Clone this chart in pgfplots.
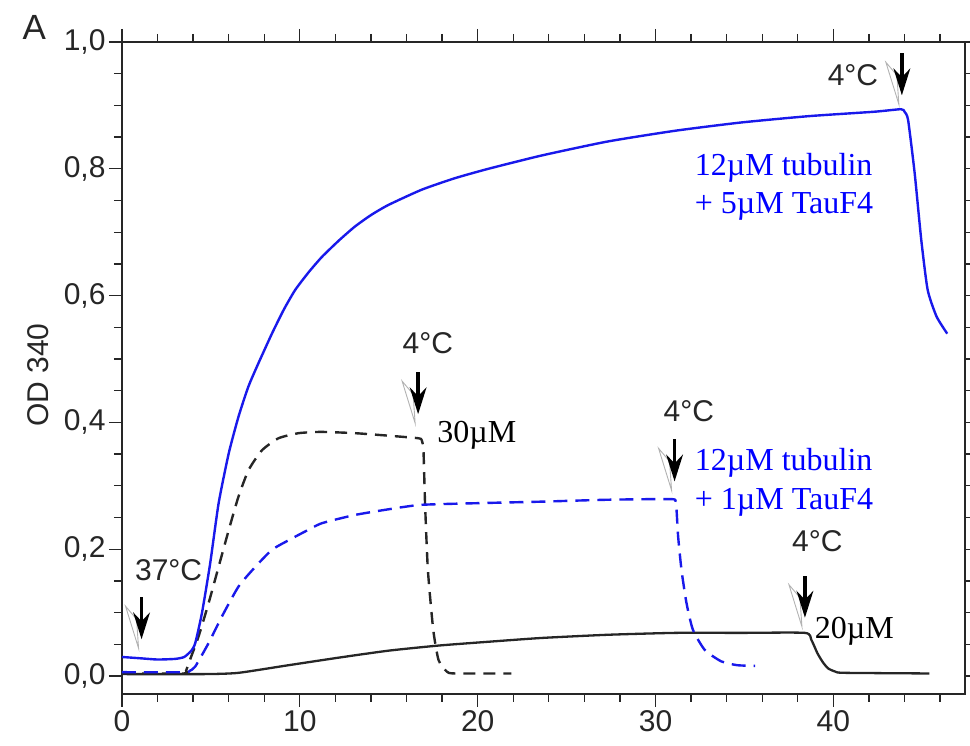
\documentclass[border=0pt]{standalone}
\usepackage{pgfplots}
\pgfplotsset{compat=1.18}
\usepackage{fontspec}
\setmainfont{Liberation Sans}
\newfontfamily\tnr{Liberation Serif}
\definecolor{cblue}{RGB}{25,25,235}
\definecolor{tblue}{RGB}{0,0,255}
\tikzset{tarrow/.pic={
  \draw[gray!60, line width=0.9bp, line join=miter] (-16bp,33bp) -- (-3bp,-9bp) -- (-5bp,20bp) -- cycle;
  \fill[black] (-1.8bp,42bp) rectangle (1.8bp,14bp);
  \fill[black] (0bp,0bp) -- (-8.5bp,27bp) -- (0bp,18bp) -- (8.5bp,27bp) -- cycle;
}}
\newcommand{\sflab}{\fontsize{30bp}{34bp}\selectfont}
\newcommand{\serlab}{\tnr\fontsize{32bp}{36bp}\selectfont}
\begin{document}
\begin{tikzpicture}
\begin{axis}[
  at={(0,0)}, anchor=south west, scale only axis,
  width=843bp, height=652bp,
  xmin=0, xmax=47.4, ymin=-0.0284, ymax=1.0,
  xtick={0,10,20,30,40},
  ytick={0,0.2,0.4,0.6,0.8,1.0},
  minor xtick={0,2,...,46},
  minor ytick={0,0.05,...,1.0},
  tick align=outside,
  major tick length=13bp, minor tick length=8bp,
  axis line style={line width=1.8bp, color=black!85},
  every tick/.style={line width=1.3bp, black!85},
  tick label style={font=\sflab, color=black!85},
  /pgf/number format/assume math mode=true,
  yticklabel style={/pgf/number format/.cd, fixed, fixed zerofill, precision=1, use comma},
  ylabel={OD 340},
  every axis y label/.style={at={(rel axis cs:-0.0996,0.489)}, rotate=90, anchor=center, font=\sflab, color=black!85},
  clip=false,
]
% black solid (20 uM)
\addplot[black!85, line width=2.3bp, line join=round, smooth, tension=0.35] coordinates {
(0,0.003) (4.7,0.003) (6.55,0.005) (9.36,0.017) (12.2,0.029) (15.0,0.040) (17.8,0.048)
(20.6,0.054) (23.6,0.060) (27.3,0.065) (31.1,0.068) (34.8,0.068) (38.4,0.068)
(38.76,0.057) (39.1,0.036) (39.4,0.022) (39.7,0.012) (40.1,0.007) (40.6,0.005) (45.4,0.004)
};
% black dashed (30 uM)
\addplot[black!85, line width=2.4bp, dash pattern=on 12bp off 8bp, line join=round, smooth, tension=0.35] coordinates {
(0,0.004) (3.5,0.004) (3.6,0.008) (3.75,0.02) (4.3,0.062) (4.87,0.115) (5.43,0.172)
(6.0,0.23) (6.55,0.283) (7.12,0.325) (7.87,0.356) (8.8,0.375) (9.93,0.383) (11.2,0.385)
(13.1,0.383) (15.0,0.379) (16.67,0.375) (16.85,0.372) (16.95,0.356) (17.04,0.272)
(17.2,0.167) (17.5,0.073) (17.8,0.025) (18.26,0.007) (18.7,0.004) (21.9,0.004)
};
% blue dashed (12 uM tubulin + 1 uM TauF4)
\addplot[cblue, line width=2.4bp, dash pattern=on 14bp off 8bp, line join=round, smooth, tension=0.35] coordinates {
(0,0.006) (3.5,0.006) (3.8,0.008) (4.12,0.015) (4.87,0.052) (5.62,0.094) (6.55,0.141)
(7.49,0.172) (8.43,0.199) (9.36,0.214) (10.3,0.228) (11.24,0.241) (13.1,0.254)
(15.0,0.263) (16.85,0.270) (20.6,0.273) (23.6,0.275) (27.3,0.278) (30.9,0.279)
(31.1,0.274) (31.18,0.262) (31.27,0.22) (31.46,0.167) (31.74,0.115) (32.1,0.073)
(32.77,0.041) (33.7,0.023) (34.6,0.017) (35.6,0.016)
};
% blue solid (12 uM tubulin + 5 uM TauF4)
\addplot[cblue, line width=2.4bp, line join=round, smooth, tension=0.35] coordinates {
(0,0.030) (1,0.028) (2,0.026) (3,0.027) (3.5,0.030) (3.9,0.040) (4.12,0.052) (4.5,0.100)
(4.96,0.178) (5.43,0.272) (6.0,0.351) (6.55,0.409) (7.1,0.456) (7.65,0.492) (8.43,0.54)
(9.1,0.578) (9.74,0.609) (10.5,0.637) (11.24,0.661) (12.2,0.687) (13.1,0.709) (14.0,0.727)
(14.98,0.743) (16.85,0.767) (18.7,0.785) (20.6,0.80) (23.6,0.821) (27.3,0.843)
(31.1,0.860) (34.8,0.873) (38.6,0.883) (42.3,0.890) (43.8,0.894) (44.0,0.890)
(44.2,0.877) (44.57,0.793) (44.94,0.688) (45.3,0.609) (45.8,0.567) (46.4,0.540)
};
% arrows
\pic at (axis cs:1.1,0.058) {tarrow};
\pic at (axis cs:16.65,0.413) {tarrow};
\pic at (axis cs:31.07,0.307) {tarrow};
\pic at (axis cs:38.4,0.092) {tarrow};
\pic at (axis cs:43.85,0.916) {tarrow};
% temperature labels
\node[font=\sflab, color=black!85, inner sep=0] at (axis cs:2.62,0.167) {37°C};
\node[font=\sflab, color=black!85, inner sep=0] at (axis cs:17.2,0.525) {4°C};
\node[font=\sflab, color=black!85, inner sep=0] at (axis cs:31.87,0.417) {4°C};
\node[font=\sflab, color=black!85, inner sep=0] at (axis cs:39.1,0.212) {4°C};
\node[font=\sflab, color=black!85, inner sep=0] at (axis cs:41.1,0.948) {4°C};
% concentration labels
\node[font=\serlab, anchor=base west, inner sep=0] at (axis cs:17.72,0.369) {30µM};
\node[font=\serlab, anchor=base west, inner sep=0] at (axis cs:38.95,0.0594) {20µM};
\node[font=\serlab, color=tblue, anchor=base west, inner sep=0] at (axis cs:32.2,0.324) {12µM tubulin};
\node[font=\serlab, color=tblue, anchor=base west, inner sep=0] at (axis cs:32.2,0.262) {+ 1µM TauF4};
\node[font=\serlab, color=tblue, anchor=base west, inner sep=0] at (axis cs:32.2,0.789) {12µM tubulin};
\node[font=\serlab, color=tblue, anchor=base west, inner sep=0] at (axis cs:32.2,0.729) {+ 5µM TauF4};
\node[font=\fontsize{35bp}{40bp}\selectfont, color=black!85] at (rel axis cs:-0.104,1.023) {A};
\end{axis}
\pgfresetboundingbox
\path[use as bounding box] (-122bp,-52bp) rectangle (848bp,694bp);
\end{tikzpicture}
\end{document}
